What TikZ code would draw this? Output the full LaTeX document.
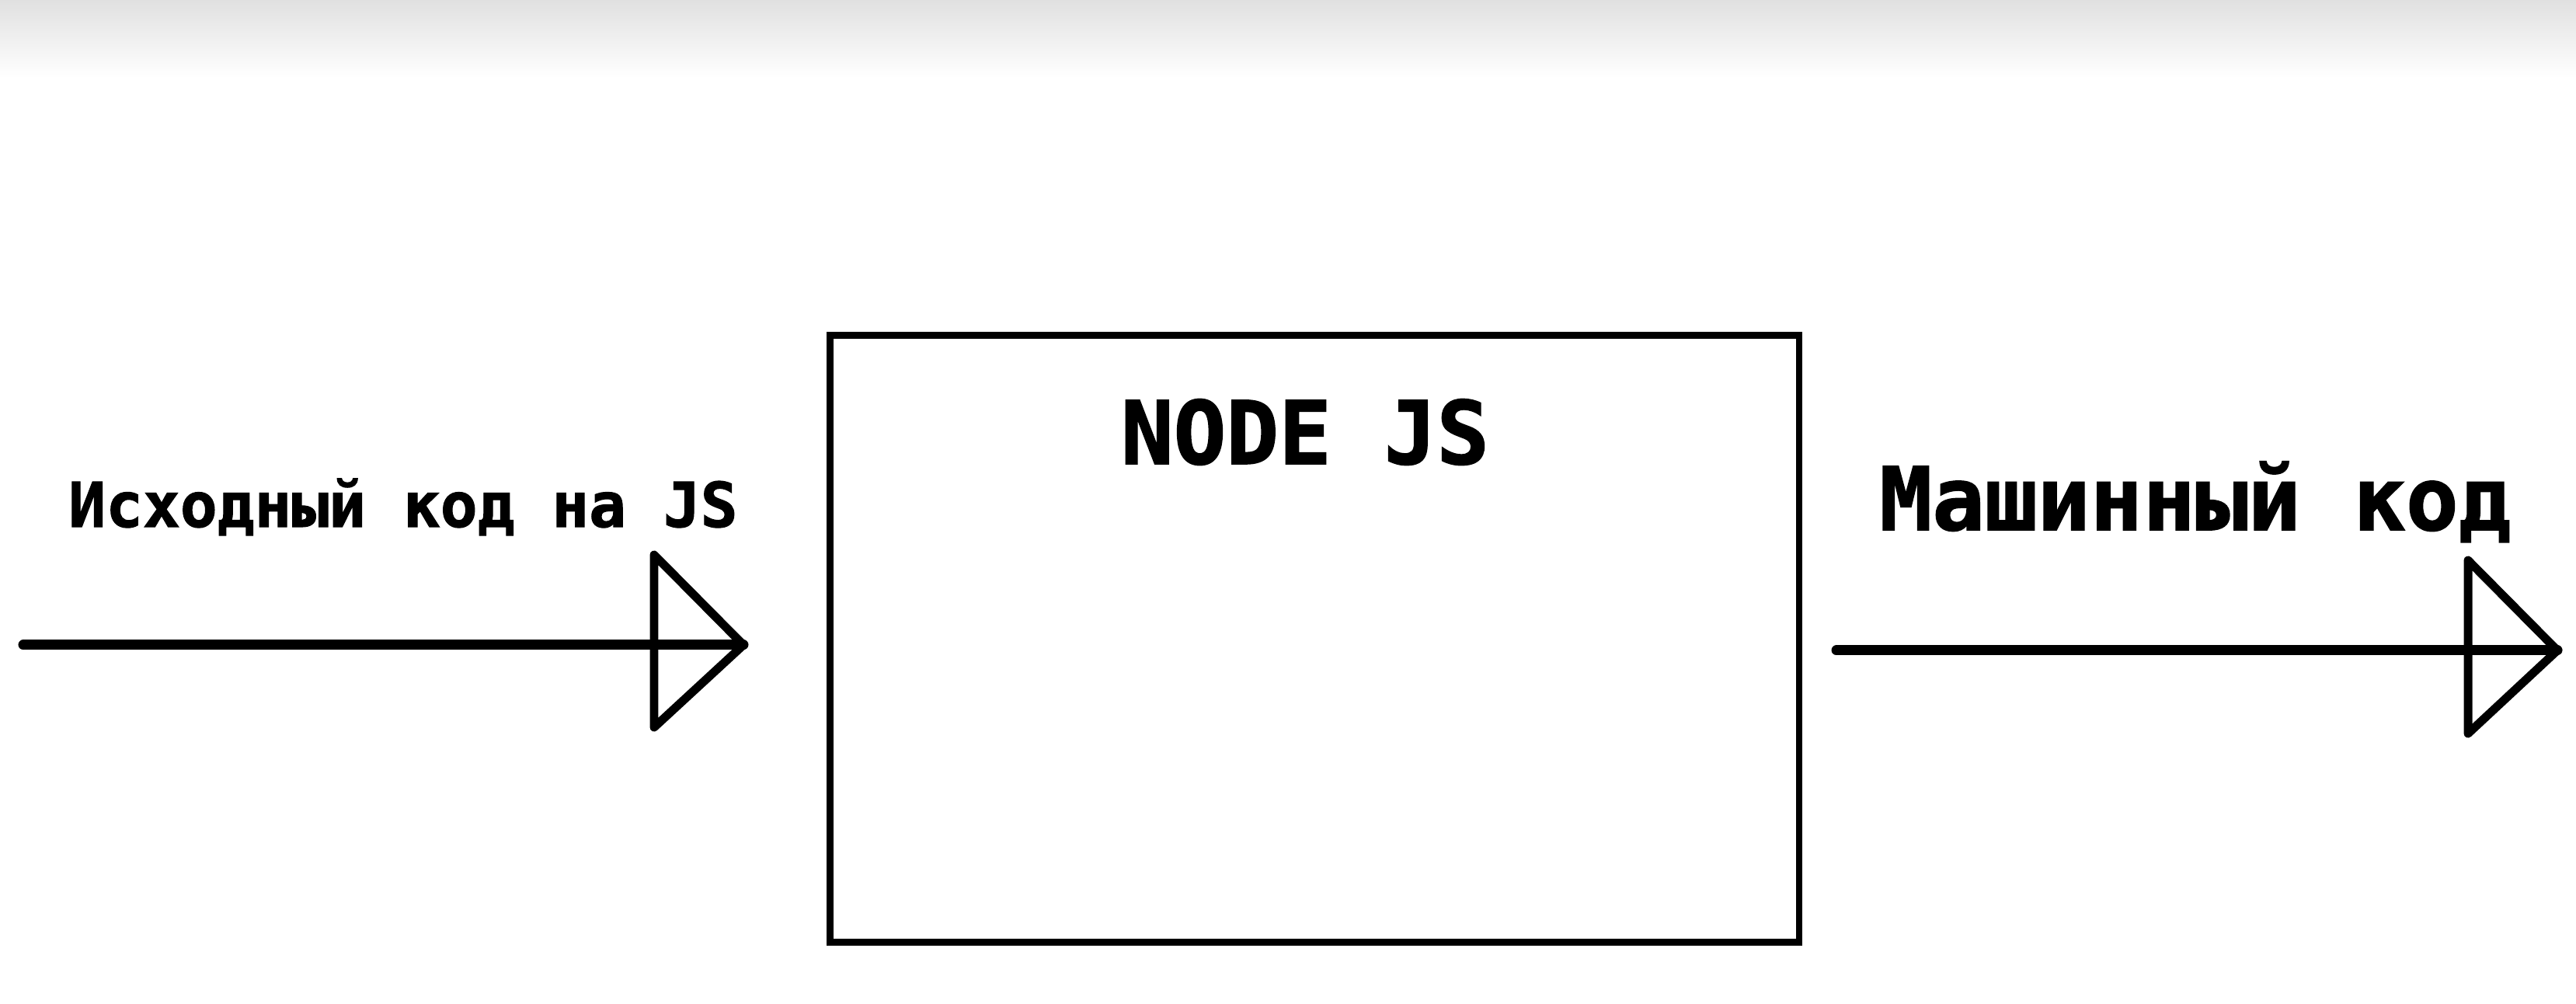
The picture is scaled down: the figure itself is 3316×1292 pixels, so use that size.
\documentclass[tikz,border=0pt]{standalone}
\usepackage{fontspec}
\newfontfamily\monob{DejaVu Sans Mono Bold}[FakeBold=1.5]
\begin{document}
\begin{tikzpicture}[x=0.01cm,y=0.01cm,
  shaft/.style={line width=3.7pt,line cap=round},
  headtri/.style={line width=3.1pt,line cap=round,line join=round},
  boxstyle/.style={draw,line width=2.5pt,minimum width=12.47cm,minimum height=7.81cm,inner sep=0pt},
  lbl/.style={inner sep=0pt,anchor=base}]
\useasboundingbox (0,0) rectangle (3316,1292);
\fill[white] (0,0) rectangle (3316,1292);
\shade[top color=black!12,bottom color=white] (0,1192) rectangle (3316,1292);
% box
\node[boxstyle] (box) at (1692,470) {};
\node[lbl,font=\monob\fontsize{32}{36}\selectfont] (title) at (1680,695) {NODE JS};
% input arrow
\coordinate (inS) at (30,462);
\coordinate (inT) at (957,462);
\draw[shaft] (inS) -- (inT);
\draw[headtri] (inT) -- ++(-115,116) -- ++(0,-222) -- cycle;
\node[lbl,font=\monob\fontsize{22.6}{26}\selectfont] (inL) at (519,614) {Исходный код на JS};
% output arrow
\coordinate (outS) at (2364,455);
\coordinate (outT) at (3292,455);
\draw[shaft] (outS) -- (outT);
\draw[headtri] (outT) -- ++(-115,116) -- ++(0,-223) -- cycle;
\node[lbl,font=\monob\fontsize{32}{36}\selectfont] (outL) at (2826,610) {Машинный код};
\end{tikzpicture}
\end{document}
